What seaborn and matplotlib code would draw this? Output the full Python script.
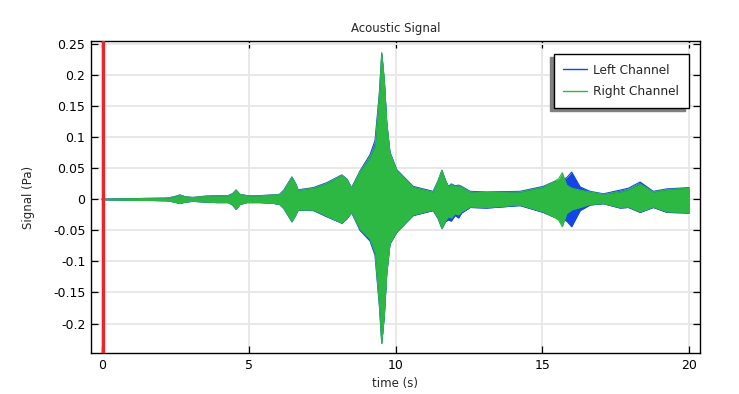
import matplotlib
matplotlib.use("Agg")
import matplotlib.pyplot as plt
import seaborn as sns
import numpy as np
from matplotlib.ticker import FuncFormatter, MultipleLocator

# ---- data: signal envelopes ----
time_s = [0.0, 0.5, 1.4, 2.2, 2.45, 2.65, 2.85, 3.1, 3.5, 3.9, 4.3, 4.45, 4.57, 4.7,
          4.93, 5.4, 5.8, 6.05, 6.2, 6.47, 6.6, 6.68, 7.2, 7.66, 8.17, 8.35, 8.5,
          8.79, 9.13, 9.3, 9.45, 9.53, 9.62, 9.7, 9.81, 10.04, 10.6, 11.28, 11.45,
          11.58, 11.7, 11.8, 11.9, 12.03, 12.15, 12.25, 12.54, 13.1, 14.24, 15.03,
          15.37, 15.55, 15.68, 15.83, 16.0, 16.29, 16.63, 17.08, 17.65, 17.93,
          18.33, 18.78, 19.24, 20.0]

right_upper = [0.0005, 0.0008, 0.0015, 0.002, 0.004, 0.007, 0.004, 0.003, 0.005, 0.006,
               0.006, 0.009, 0.015, 0.008, 0.006, 0.006, 0.007, 0.008, 0.015, 0.036,
               0.025, 0.015, 0.018, 0.026, 0.039, 0.032, 0.018, 0.045, 0.068, 0.085,
               0.17, 0.236, 0.19, 0.123, 0.075, 0.047, 0.02, 0.012, 0.03, 0.047, 0.03,
               0.02, 0.024, 0.021, 0.022, 0.02, 0.012, 0.011, 0.012, 0.02, 0.028,
               0.033, 0.043, 0.023, 0.018, 0.015, 0.012, 0.0085, 0.012, 0.016, 0.025,
               0.012, 0.016, 0.018]
right_lower = [-0.0005, -0.0008, -0.0015, -0.002, -0.004, -0.0065, -0.004, -0.003,
               -0.004, -0.005, -0.005, -0.009, -0.016, -0.008, -0.005, -0.005, -0.006,
               -0.008, -0.015, -0.036, -0.025, -0.017, -0.017, -0.027, -0.038, -0.03,
               -0.02, -0.048, -0.064, -0.085, -0.17, -0.232, -0.185, -0.119, -0.071,
               -0.052, -0.025, -0.017, -0.03, -0.047, -0.035, -0.028, -0.03, -0.023,
               -0.025, -0.02, -0.012, -0.013, -0.009, -0.02, -0.028, -0.033, -0.044,
               -0.023, -0.017, -0.013, -0.008, -0.0065, -0.013, -0.012, -0.02, -0.012,
               -0.02, -0.021]

left_upper = [0.0006, 0.0009, 0.0016, 0.0022, 0.0042, 0.0072, 0.0042, 0.0032, 0.0052,
              0.0062, 0.0062, 0.0092, 0.0152, 0.0082, 0.0062, 0.0062, 0.0072, 0.0082,
              0.0152, 0.0362, 0.0252, 0.0155, 0.019, 0.027, 0.0395, 0.0325, 0.0185,
              0.046, 0.072, 0.095, 0.172, 0.236, 0.19, 0.124, 0.076, 0.048, 0.021,
              0.013, 0.03, 0.047, 0.031, 0.021, 0.025, 0.022, 0.023, 0.021, 0.013,
              0.012, 0.013, 0.021, 0.028, 0.03, 0.032, 0.035, 0.044, 0.02, 0.013,
              0.009, 0.015, 0.018, 0.028, 0.013, 0.017, 0.019]
left_lower = [-0.0006, -0.0009, -0.0016, -0.0022, -0.0042, -0.0067, -0.0042, -0.0032,
              -0.0042, -0.0052, -0.0052, -0.0092, -0.0162, -0.0082, -0.0052, -0.0052,
              -0.0062, -0.0082, -0.0152, -0.0362, -0.0252, -0.0175, -0.018, -0.028,
              -0.0385, -0.031, -0.021, -0.05, -0.067, -0.09, -0.172, -0.232, -0.186,
              -0.12, -0.072, -0.053, -0.026, -0.018, -0.031, -0.047, -0.036, -0.033,
              -0.035, -0.026, -0.03, -0.022, -0.013, -0.014, -0.01, -0.021, -0.028,
              -0.03, -0.032, -0.035, -0.044, -0.018, -0.009, -0.007, -0.014, -0.013,
              -0.021, -0.013, -0.021, -0.022]

marker_time = [0.02]
x_ticks = [0, 5, 10, 15, 20]
series_names = ["Left Channel", "Right Channel"]
BLUE = "#1446e6"
GREEN = "#2cb843"
RED = "#e8262a"

sns.set_style("ticks")
plt.rcParams["font.family"] = ["DejaVu Sans"]
plt.rcParams["axes.unicode_minus"] = False

fig = plt.figure(figsize=(7.39, 3.94), dpi=100)
ax = fig.add_axes([0.1231, 0.1033, 0.8241, 0.7914])

t = np.array(time_s)
# Left channel (drawn first, underneath)
ax.fill_between(t, left_lower, left_upper, color=BLUE, lw=0, zorder=2)
sns.lineplot(x=t, y=left_upper, color=BLUE, lw=0.8, ax=ax, label=series_names[0], zorder=2)
sns.lineplot(x=t, y=left_lower, color=BLUE, lw=0.8, ax=ax, zorder=2)
# Right channel
ax.fill_between(t, right_lower, right_upper, color=GREEN, lw=0, zorder=3)
sns.lineplot(x=t, y=right_upper, color=GREEN, lw=0.8, ax=ax, label=series_names[1], zorder=3)
sns.lineplot(x=t, y=right_lower, color=GREEN, lw=0.8, ax=ax, zorder=3)

for mt in marker_time:
    ax.axvline(mt, color=RED, lw=2.4, zorder=4)

ax.set_xlim(-0.375, 20.37)
ax.set_ylim(-0.248, 0.2545)
ax.set_xticks(x_ticks)
ax.yaxis.set_major_locator(MultipleLocator(0.05))
ax.yaxis.set_major_formatter(FuncFormatter(lambda v, p: "0" if abs(v) < 1e-9 else f"{v:g}"))
ax.grid(True, color="#e8e8e8", lw=1.4, zorder=0)
ax.set_axisbelow(True)
ax.tick_params(direction="in", length=5, width=0.9, top=True, right=True,
               labelsize=9, colors="black", pad=4)
for s in ax.spines.values():
    s.set_color("black")
    s.set_linewidth(1.0)

ax.set_title("Acoustic Signal", fontsize=8.5, pad=7)
ax.set_xlabel("time (s)", fontsize=8.5, labelpad=4)
ax.set_ylabel("Signal (Pa)", fontsize=8.5, labelpad=13)

handles, labels = ax.get_legend_handles_labels()
leg = ax.legend(handles, labels, loc="upper right", bbox_to_anchor=(0.982, 0.960),
                borderaxespad=0, fancybox=False, fontsize=8.7, handlelength=2.0,
                handletextpad=0.5, borderpad=0.8, labelspacing=0.7,
                edgecolor="black", framealpha=1,
                shadow={"ox": -2.6, "oy": -2.4, "color": "#808080", "alpha": 1})
leg.get_frame().set_linewidth(1.0)
for h in leg.get_lines():
    h.set_linewidth(1.0)

fig.savefig("out.png", dpi=100)
